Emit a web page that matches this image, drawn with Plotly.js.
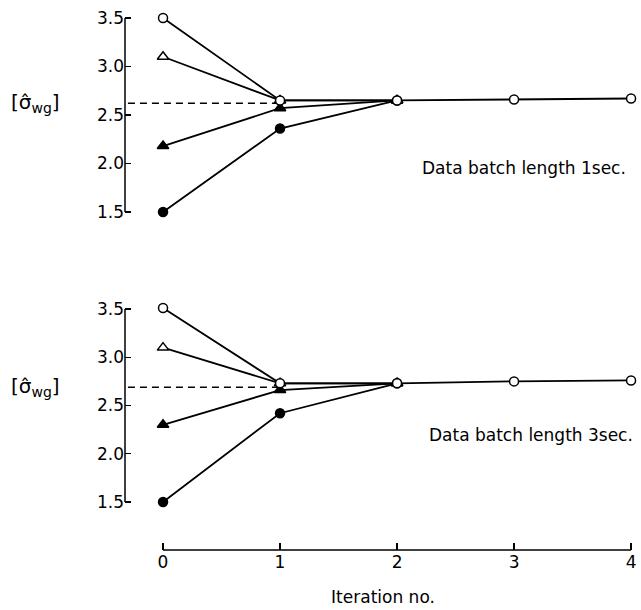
<!DOCTYPE html>
<html>
<head>
<meta charset="utf-8">
<script src="https://cdn.plot.ly/plotly-3.0.1.min.js"></script>
<style>html,body{margin:0;padding:0;background:#fff;}#chart{width:641px;height:610px;}</style>
</head>
<body>
<div id="chart"></div>
<script>
// ---- data ----
const iterations = [0, 1, 2, 3, 4];
const xTickLabels = ['0', '1', '2', '3', '4'];
const yTickVals = [1.5, 2.0, 2.5, 3.0, 3.5];
const yTickLabels = ['1.5', '2.0', '2.5', '3.0', '3.5'];

// top panel: data batch length 1 sec
const top_openCircle    = [3.5, 2.65, 2.65, 2.66, 2.67];
const top_openTriangle  = [3.1, 2.65, 2.65];
const top_filledTriangle= [2.18, 2.57, 2.65];
const top_filledCircle  = [1.5, 2.36, 2.65];
const top_refLevel = 2.62;

// bottom panel: data batch length 3 sec
const bot_openCircle    = [3.51, 2.73, 2.73, 2.75, 2.76];
const bot_openTriangle  = [3.1, 2.73, 2.73];
const bot_filledTriangle= [2.3, 2.66, 2.73];
const bot_filledCircle  = [1.5, 2.42, 2.73];
const bot_refLevel = 2.69;

const refX = [-0.3, 1];
const panelLabels = ['Data batch length 1sec.', 'Data batch length 3sec.'];
const yLabel = '[σ\u0302<sub>wg</sub>]';
const xTitle = 'Iteration no.';

// ---- traces ----
const FONT = 'DejaVu Sans, sans-serif';
function series(xa, ya, ys, symbol, size, fill) {
  return {
    x: iterations.slice(0, ys.length), y: ys, xaxis: xa, yaxis: ya,
    mode: 'lines+markers', type: 'scatter', showlegend: false, hoverinfo: 'skip',
    line: {color: '#000', width: 1.8},
    marker: {symbol: symbol, size: size, color: fill, line: {color: '#000', width: 1.5}}
  };
}
function refLine(xa, ya, level) {
  return {x: refX, y: [level, level], xaxis: xa, yaxis: ya, mode: 'lines', type: 'scatter',
          showlegend: false, hoverinfo: 'skip', line: {color: '#000', width: 1.5, dash: '7px,5px'}};
}
const traces = [
  refLine('x2', 'y2', top_refLevel),
  series('x2', 'y2', top_filledCircle, 'circle', 9, '#000'),
  series('x2', 'y2', top_filledTriangle, 'triangle-up', 10, '#000'),
  series('x2', 'y2', top_openTriangle, 'triangle-up', 10, '#fff'),
  series('x2', 'y2', top_openCircle, 'circle', 9, '#fff'),
  refLine('x', 'y', bot_refLevel),
  series('x', 'y', bot_filledCircle, 'circle', 9, '#000'),
  series('x', 'y', bot_filledTriangle, 'triangle-up', 10, '#000'),
  series('x', 'y', bot_openTriangle, 'triangle-up', 10, '#fff'),
  series('x', 'y', bot_openCircle, 'circle', 9, '#fff')
];

const xRange = [-0.325, 4.085];
const yAxisCommon = {
  tickvals: yTickVals, ticktext: yTickLabels, ticks: 'inside', ticklen: 6, tickwidth: 1.4,
  tickcolor: '#000', showgrid: false, zeroline: false, showline: false,
  tickfont: {family: FONT, size: 17, color: '#000'}
};
const layout = {
  width: 641, height: 610,
  margin: {l: 125, r: 0, t: 0, b: 60},
  paper_bgcolor: '#fff', plot_bgcolor: '#fff',
  font: {family: FONT, color: '#000'},
  xaxis: {
    domain: [0, 1], anchor: 'y', range: xRange,
    tickvals: iterations, ticktext: xTickLabels, ticks: 'inside', ticklen: 7, tickwidth: 1.4,
    tickcolor: '#000', showgrid: false, zeroline: false, showline: false,
    tickfont: {family: FONT, size: 17, color: '#000'},
    title: {text: xTitle, font: {family: FONT, size: 17, color: '#000'}, standoff: 20}
  },
  xaxis2: {domain: [0, 1], anchor: 'y2', range: xRange, visible: false},
  yaxis: Object.assign({domain: [0, 0.4545], anchor: 'x', range: [1.003, 3.593]}, yAxisCommon),
  yaxis2: Object.assign({domain: [0.5964, 0.9855], anchor: 'x2', range: [1.397, 3.603]}, yAxisCommon),
  shapes: [
    {type: 'line', xref: 'x2 domain', yref: 'y2', x0: 0, x1: 0, y0: 1.5, y1: 3.5, line: {color: '#000', width: 1.5}},
    {type: 'line', xref: 'x domain', yref: 'y', x0: 0, x1: 0, y0: 1.5, y1: 3.5, line: {color: '#000', width: 1.5}},
    {type: 'line', xref: 'x', yref: 'y domain', x0: 0, x1: 4, y0: 0, y1: 0, line: {color: '#000', width: 1.5}}
  ],
  annotations: [
    {xref: 'paper', yref: 'y2', x: -0.1725, y: top_refLevel, xanchor: 'center', yanchor: 'middle',
     text: yLabel, showarrow: false, font: {family: FONT, size: 20, color: '#000'}},
    {xref: 'paper', yref: 'y', x: -0.1725, y: bot_refLevel, xanchor: 'center', yanchor: 'middle',
     text: yLabel, showarrow: false, font: {family: FONT, size: 20, color: '#000'}},
    {xref: 'x2', yref: 'y2', x: 3.97, y: 1.95, xanchor: 'right', yanchor: 'middle',
     text: panelLabels[0], showarrow: false, font: {family: FONT, size: 17, color: '#000'}},
    {xref: 'x', yref: 'y', x: 4.03, y: 2.19, xanchor: 'right', yanchor: 'middle',
     text: panelLabels[1], showarrow: false, font: {family: FONT, size: 17, color: '#000'}}
  ]
};
Plotly.newPlot('chart', traces, layout, {staticPlot: true, displayModeBar: false});
</script>
</body>
</html>
